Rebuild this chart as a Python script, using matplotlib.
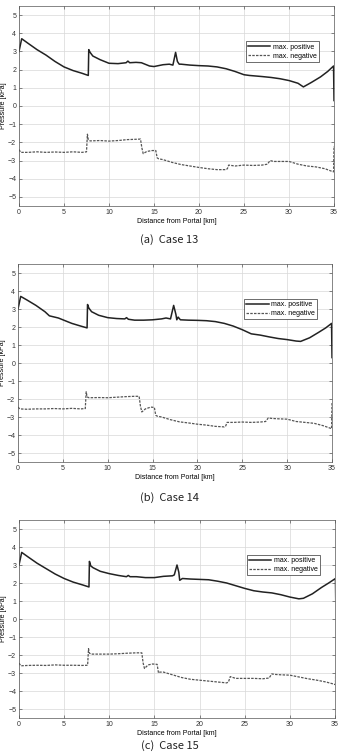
import matplotlib.pyplot as plt
import numpy as np

# distance [km] / pressure [kPa]
case13_pos_x = [0, 0.3, 1, 2, 3, 4, 5, 6, 7, 7.7, 7.75, 7.9, 8.2, 9, 10, 11, 11.9, 12.1, 12.3, 13, 13.6, 14.5,
                15, 16, 16.7, 17.1, 17.4, 17.6, 17.8, 18, 19, 20, 21, 22, 23, 24, 25, 25.6, 27, 28, 29, 30,
                31, 31.6, 32.5, 33.5, 34.3, 34.95, 35]
case13_pos_y = [3.0, 3.7, 3.45, 3.1, 2.8, 2.45, 2.15, 1.95, 1.8, 1.68, 3.1, 2.95, 2.75, 2.55, 2.35, 2.33, 2.38, 2.47,
                2.38, 2.4, 2.38, 2.2, 2.17, 2.27, 2.3, 2.25, 2.95, 2.45, 2.3, 2.3, 2.25, 2.22, 2.2, 2.15, 2.05,
                1.9, 1.72, 1.68, 1.62, 1.57, 1.5, 1.4, 1.25, 1.05, 1.3, 1.6, 1.9, 2.2, 0.3]
case13_neg_x = [0, 0.2, 1, 2, 3, 4, 5, 6, 7, 7.5, 7.6, 7.7, 7.9, 9, 10, 11, 12, 13, 13.5, 13.65, 13.8, 14.2, 14.8,
                15.2, 15.35, 15.5, 16, 17, 18, 19, 20, 21, 22, 23, 23.15, 23.3, 24, 25, 26, 27, 27.6, 27.9, 28.3,
                29, 30, 31, 32, 33, 34, 34.8, 34.95, 35]
case13_neg_y = [-2.4, -2.55, -2.55, -2.52, -2.55, -2.53, -2.55, -2.52, -2.55, -2.52, -1.55, -1.85, -1.92, -1.9,
                -1.93, -1.9, -1.85, -1.83, -1.82, -2.3, -2.62, -2.5, -2.45, -2.45, -2.85, -2.9, -2.95, -3.1,
                -3.22, -3.3, -3.38, -3.45, -3.5, -3.5, -3.45, -3.25, -3.3, -3.25, -3.27, -3.25, -3.2, -3.0,
                -3.05, -3.05, -3.05, -3.2, -3.3, -3.35, -3.45, -3.6, -3.62, -2.2]

case14_pos_x = [0, 0.3, 1, 2, 3, 3.5, 4.5, 5, 6, 7, 7.7, 7.75, 7.9, 8.2, 9, 10, 11, 11.9, 12.1, 12.3, 13, 14,
                15, 16, 16.5, 17, 17.35, 17.6, 17.7, 17.85, 18.1, 19, 20, 21, 22, 23, 24, 25, 26, 27, 28, 29,
                30, 31, 31.5, 32.5, 33.5, 34.3, 34.95, 35]
case14_pos_y = [3.0, 3.7, 3.5, 3.2, 2.85, 2.62, 2.5, 2.4, 2.2, 2.05, 1.95, 3.25, 3.05, 2.85, 2.65, 2.52, 2.47, 2.45,
                2.52, 2.43, 2.38, 2.38, 2.4, 2.45, 2.5, 2.45, 3.2, 2.7, 2.4, 2.55, 2.4, 2.38, 2.37, 2.35, 2.3,
                2.2, 2.05, 1.85, 1.62, 1.55, 1.45, 1.36, 1.3, 1.22, 1.2, 1.4, 1.7, 1.95, 2.2, 0.3]
case14_neg_x = [0, 0.2, 1, 2, 3, 4, 5, 6, 7, 7.5, 7.6, 7.7, 7.9, 9, 10, 11, 12, 13, 13.5, 13.65, 13.8, 14.2, 14.8,
                15.2, 15.35, 15.5, 16, 17, 18, 19, 20, 21, 22, 23, 23.15, 23.3, 24, 25, 26, 27, 27.6, 27.9, 28.3,
                29, 30, 31, 32, 33, 34, 34.8, 34.95, 35]
case14_neg_y = [-2.45, -2.55, -2.57, -2.55, -2.55, -2.53, -2.55, -2.52, -2.55, -2.53, -1.6, -1.88, -1.93, -1.92,
                -1.93, -1.9, -1.87, -1.85, -1.85, -2.4, -2.72, -2.55, -2.45, -2.47, -2.9, -2.95, -3.0, -3.15,
                -3.27, -3.33, -3.4, -3.45, -3.52, -3.55, -3.5, -3.3, -3.3, -3.28, -3.3, -3.28, -3.25, -3.05,
                -3.08, -3.1, -3.12, -3.25, -3.3, -3.35, -3.48, -3.62, -3.65, -2.2]

case15_pos_x = [0, 0.3, 1, 2, 3, 4, 5, 6, 7, 7.75, 7.8, 7.95, 8.2, 9, 10, 11, 11.9, 12.1, 12.3, 13, 14, 15, 16,
                17, 17.2, 17.5, 17.7, 17.8, 18.1, 19, 20, 21, 22, 23, 24, 25, 26, 27, 28, 29, 30, 31, 31.5,
                32.5, 33.5, 34.3, 35.05, 35.1]
case15_pos_y = [3.0, 3.7, 3.45, 3.1, 2.8, 2.5, 2.25, 2.05, 1.9, 1.78, 3.2, 2.95, 2.85, 2.65, 2.52, 2.42, 2.35, 2.42,
                2.35, 2.35, 2.3, 2.3, 2.37, 2.4, 2.45, 3.0, 2.6, 2.15, 2.25, 2.22, 2.2, 2.18, 2.1, 2.0, 1.85, 1.7,
                1.57, 1.5, 1.45, 1.35, 1.22, 1.12, 1.15, 1.4, 1.75, 2.0, 2.25, 0.3]
case15_neg_x = [0, 0.2, 1, 2, 3, 4, 5, 6, 7, 7.6, 7.7, 7.8, 8, 9, 10, 11, 12, 13, 13.6, 13.75, 13.9, 14.3, 14.8,
                15.3, 15.45, 15.6, 16, 17, 18, 19, 20, 21, 22, 23, 23.2, 23.4, 24, 25, 26, 27, 27.7, 28, 28.4,
                29, 30, 31, 32, 33, 34, 34.9, 35.05, 35.1]
case15_neg_y = [-2.45, -2.6, -2.58, -2.57, -2.58, -2.55, -2.57, -2.57, -2.58, -2.57, -1.65, -1.9, -1.95, -1.95,
                -1.95, -1.93, -1.9, -1.88, -1.88, -2.45, -2.75, -2.55, -2.5, -2.52, -3.0, -2.95, -2.95, -3.1,
                -3.25, -3.35, -3.4, -3.45, -3.5, -3.55, -3.5, -3.2, -3.3, -3.3, -3.3, -3.32, -3.28, -3.05,
                -3.08, -3.1, -3.12, -3.22, -3.32, -3.4, -3.5, -3.62, -3.65, -2.2]

cases = ["(a)  Case 13", "(b)  Case 14", "(c)  Case 15"]
pos_x = [case13_pos_x, case14_pos_x, case15_pos_x]
pos_y = [case13_pos_y, case14_pos_y, case15_pos_y]
neg_x = [case13_neg_x, case14_neg_x, case15_neg_x]
neg_y = [case13_neg_y, case14_neg_y, case15_neg_y]

plt.rcParams['font.family'] = ['Liberation Sans', 'DejaVu Sans']

fig = plt.figure(figsize=(3.39, 7.53), dpi=100)

# axes boxes in pixels (left, top, right, bottom)
boxes = [(19, 6, 334, 206), (18, 264, 332, 462), (19, 520, 335, 718)]

for i in range(3):
    l, t, r, b = boxes[i]
    ax = fig.add_axes([l / 339, 1 - b / 753, (r - l) / 339, (b - t) / 753])
    ax.plot(pos_x[i], pos_y[i], color='#222222', lw=1.1, label='max. positive')
    ax.plot(neg_x[i], neg_y[i], color='#555555', lw=0.9, ls=(0, (2, 1)), label='max. negative')
    ax.set_xlim(0, 35)
    ax.set_ylim(-5.5, 5.5)
    ax.set_xticks(np.arange(0, 36, 5))
    ax.set_yticks(np.arange(-5, 6, 1))
    ax.grid(True, color='#d8d8d8', lw=0.5)
    ax.tick_params(direction='in', length=2, width=0.4, labelsize=5, pad=2,
                   top=True, right=True, colors='#333333')
    for s in ax.spines.values():
        s.set_linewidth(0.5)
        s.set_color('#555555')
    ax.set_xlabel('Distance from Portal [km]', fontsize=5, labelpad=1.5)
    ax.set_ylabel('Pressure [kPa]', fontsize=5, labelpad=1)
    ax.legend(loc='upper left', bbox_to_anchor=(0.71, 0.84), fontsize=5, frameon=True,
              fancybox=False, edgecolor='#333333', framealpha=1, handlelength=3.2,
              borderpad=0.3, labelspacing=0.3, handletextpad=0.4).get_frame().set_linewidth(0.5)

caption_y = [240, 498, 746]
for i in range(3):
    fig.text(0.5, 1 - caption_y[i] / 753, cases[i], ha='center', va='center', fontsize=8,
             family=['Noto Sans CJK KR', 'DejaVu Sans'], color='#222222')

fig.savefig('out.png', dpi=100)
